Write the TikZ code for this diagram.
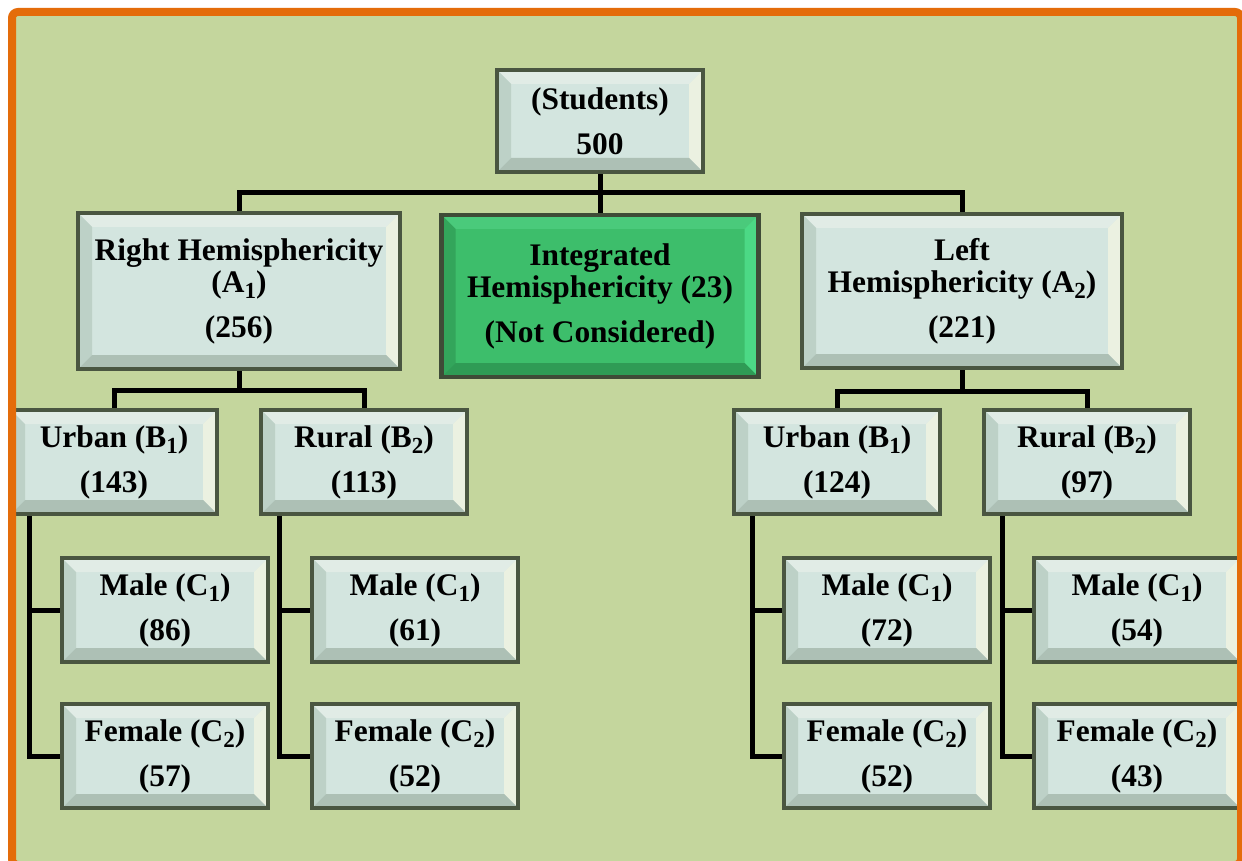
\documentclass[tikz,border=0pt]{standalone}
\usepackage{fontspec}
\setmainfont{Liberation Serif}
\definecolor{bgkhaki}{HTML}{C4D69D}
\definecolor{frameorange}{HTML}{E46C0A}
\definecolor{boxedge}{HTML}{4A5641}
\definecolor{faceblue}{HTML}{D3E5DF}
\definecolor{bevtop}{HTML}{E1ECE6}
\definecolor{bevleft}{HTML}{BDD1C7}
\definecolor{bevright}{HTML}{EBF1E1}
\definecolor{bevbot}{HTML}{ADC0B5}
\definecolor{greenedge}{HTML}{3F4B37}
\definecolor{facegreen}{HTML}{3DBE6B}
\definecolor{gtop}{HTML}{4ACA7B}
\definecolor{gleft}{HTML}{33A55B}
\definecolor{gright}{HTML}{4CD985}
\definecolor{gbot}{HTML}{2F9B55}
\newcommand{\boxfont}{\fontsize{15.7}{16}\selectfont\bfseries}
\newcommand{\lowsub}[1]{\raisebox{-0.45ex}{\fontsize{11.5}{11.5}\selectfont #1}}
% bevel faces: top, left, right, bottom
\newcommand{\bevelfaces}[4]{%
  \fill[#1] (path picture bounding box.north west) -- (path picture bounding box.north east)
    -- ([shift={(-7pt,-7pt)}]path picture bounding box.north east) -- ([shift={(7pt,-7pt)}]path picture bounding box.north west) -- cycle;
  \fill[#2] (path picture bounding box.north west) -- (path picture bounding box.south west)
    -- ([shift={(7pt,7pt)}]path picture bounding box.south west) -- ([shift={(7pt,-7pt)}]path picture bounding box.north west) -- cycle;
  \fill[#3] (path picture bounding box.north east) -- (path picture bounding box.south east)
    -- ([shift={(-7pt,7pt)}]path picture bounding box.south east) -- ([shift={(-7pt,-7pt)}]path picture bounding box.north east) -- cycle;
  \fill[#4] (path picture bounding box.south west) -- (path picture bounding box.south east)
    -- ([shift={(-7pt,7pt)}]path picture bounding box.south east) -- ([shift={(7pt,7pt)}]path picture bounding box.south west) -- cycle;
}
\tikzset{
  bevelbox/.style={draw=boxedge, line width=2.2pt, fill=faceblue, align=center, font=\boxfont,
    path picture={\bevelfaces{bevtop}{bevleft}{bevright}{bevbot}}},
  greenbox/.style={bevelbox, draw=greenedge, fill=facegreen,
    path picture={\bevelfaces{gtop}{gleft}{gright}{gbot}}},
  tierbox/.style={bevelbox, minimum width=103pt, minimum height=52pt},
  link/.style={line width=2.5pt, black},
}
\begin{document}
\begin{tikzpicture}[x=0.5pt, y=-0.5pt]
\useasboundingbox (0,0) rectangle (1242,861);
\clip (0,0) rectangle (1242,861);
\fill[white] (0,0) rectangle (1242,861);
\fill[bgkhaki] (12,12) rectangle (1241,865);
% top levels
\node[bevelbox, minimum width=103pt, minimum height=51pt] (stud) at (600,121) {(Students)\\[6.5pt]500};
\node[bevelbox, minimum width=161pt, minimum height=78pt] (rhemi) at (239,291) {Right Hemisphericity\\(A\lowsub{1})\\[6.5pt](256)};
\node[greenbox, minimum width=158.5pt, minimum height=81pt] (ihemi) at (600,296) {Integrated\\Hemisphericity (23)\\[6.5pt](Not Considered)};
\node[bevelbox, minimum width=160pt, minimum height=77pt] (lhemi) at (962,291) {Left\\Hemisphericity (A\lowsub{2})\\[6.5pt](221)};
% area
\node[tierbox] (urbanA) at (114,462) {Urban (B\lowsub{1})\\[6.5pt](143)};
\node[tierbox] (ruralA) at (364,462) {Rural (B\lowsub{2})\\[6.5pt](113)};
\node[tierbox] (urbanB) at (837,462) {Urban (B\lowsub{1})\\[6.5pt](124)};
\node[tierbox] (ruralB) at (1087,462) {Rural (B\lowsub{2})\\[6.5pt](97)};
% gender
\node[tierbox] (maleAu) at (165,610) {Male (C\lowsub{1})\\[6.5pt](86)};
\node[tierbox] (femAu) at (165,756) {Female (C\lowsub{2})\\[6.5pt](57)};
\node[tierbox] (maleAr) at (415,610) {Male (C\lowsub{1})\\[6.5pt](61)};
\node[tierbox] (femAr) at (415,756) {Female (C\lowsub{2})\\[6.5pt](52)};
\node[tierbox] (maleBu) at (887,610) {Male (C\lowsub{1})\\[6.5pt](72)};
\node[tierbox] (femBu) at (887,756) {Female (C\lowsub{2})\\[6.5pt](52)};
\node[tierbox] (maleBr) at (1137,610) {Male (C\lowsub{1})\\[6.5pt](54)};
\node[tierbox] (femBr) at (1137,756) {Female (C\lowsub{2})\\[6.5pt](43)};
% connectors
\coordinate (hubtop) at (600,193);
\coordinate (hubA) at (239,390);
\coordinate (hubB) at (962,391);
\draw[link] (stud.south) -- (hubtop);
\draw[link] (hubtop) -| (rhemi.north);
\draw[link] (hubtop) -- (ihemi.north);
\draw[link] (hubtop) -| (lhemi.north);
\draw[link] (rhemi.south) -- (hubA);
\draw[link] (hubA) -| (urbanA.north);
\draw[link] (hubA) -| (ruralA.north);
\draw[link] (lhemi.south) -- (hubB);
\draw[link] (hubB) -| (urbanB.north);
\draw[link] (hubB) -| (ruralB.north);
\foreach \area/\male/\fem in {urbanA/maleAu/femAu, ruralA/maleAr/femAr, urbanB/maleBu/femBu, ruralB/maleBr/femBr} {
  \draw[link] ([xshift=10.5pt]\area.south west) |- (\male.west);
  \draw[link] ([xshift=10.5pt]\area.south west) |- (\fem.west);
}
% frame
\draw[frameorange, line width=4pt, rounded corners=3pt] (12,12) rectangle (1241,865);
\end{tikzpicture}
\end{document}
